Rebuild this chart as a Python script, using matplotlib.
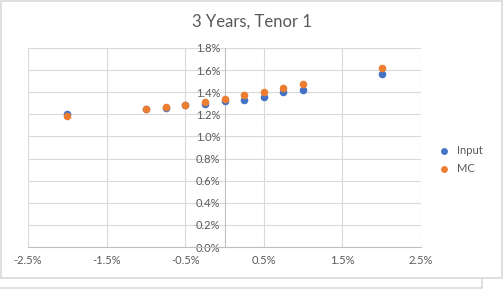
import matplotlib
matplotlib.use("Agg")
import matplotlib.pyplot as plt
from matplotlib.patches import Rectangle
from matplotlib.lines import Line2D
from matplotlib.ticker import FuncFormatter, MultipleLocator

plt.rcParams['font.family'] = ['Lato', 'DejaVu Sans']

strikes = [-2.0, -1.0, -0.75, -0.5, -0.25, 0.0, 0.25, 0.5, 0.75, 1.0, 2.0]
input_vals = [1.203, 1.245, 1.258, 1.280, 1.292, 1.317, 1.332, 1.359, 1.399, 1.422, 1.561]
mc_vals = [1.185, 1.250, 1.262, 1.285, 1.308, 1.335, 1.372, 1.399, 1.435, 1.471, 1.616]
series_names = ["Input", "MC"]
title = "3 Years, Tenor 1"

fig = plt.figure(figsize=(5.04, 2.89), dpi=100)
ax = fig.add_axes([28/504, 1-247/289, (421-28)/504, (247-48)/289])

ax.scatter(strikes, input_vals, s=30, color='#4472C4', label=series_names[0], zorder=3, linewidths=0)
ax.scatter(strikes, mc_vals, s=30, color='#ED7D31', label=series_names[1], zorder=4, linewidths=0)

ax.set_xlim(-2.5, 2.5)
ax.set_ylim(0, 1.8)
ax.set_xticks([-2.5, -1.5, -0.5, 0.5, 1.5, 2.5])
ax.yaxis.set_major_locator(MultipleLocator(0.2))
ax.xaxis.set_major_formatter(FuncFormatter(lambda v, p: f"{v:.1f}%"))
ax.yaxis.set_major_formatter(FuncFormatter(lambda v, p: f"{v:.1f}%"))
ax.grid(True, color='#d9d9d9', linewidth=0.8, zorder=0)
ax.set_axisbelow(True)
for s in ['top', 'right']:
    ax.spines[s].set_visible(False)
ax.spines['left'].set_position(('data', 0))
ax.spines['left'].set_color('#bfbfbf')
ax.spines['bottom'].set_color('#bfbfbf')
ax.tick_params(length=0, labelsize=8, colors='#595959', pad=3)
ax.tick_params(axis='x', pad=6)

fig.text(0.5, 1-22/289, title, ha='center', va='center', fontsize=12, color='#595959')
leg = ax.legend(loc='center left', bbox_to_anchor=(1.02, 0.44), frameon=False,
                fontsize=8, handletextpad=0.1, labelspacing=0.65, markerscale=0.9,
                borderaxespad=0)
for t in leg.get_texts():
    t.set_color('#595959')

# chart area border
fig.patches.append(Rectangle((0.5/504, 11/289), 501.5/504, 277.5/289, transform=fig.transFigure,
                             fill=False, edgecolor='#d9d9d9', linewidth=1.2))
# edge of the next chart below
fig.lines.append(Line2D([0, 482/504, 482/504], [1/289, 1/289, 10/289], transform=fig.transFigure,
                        color='#d9d9d9', linewidth=1.2))
fig.savefig("out.png", dpi=100, facecolor='white')
